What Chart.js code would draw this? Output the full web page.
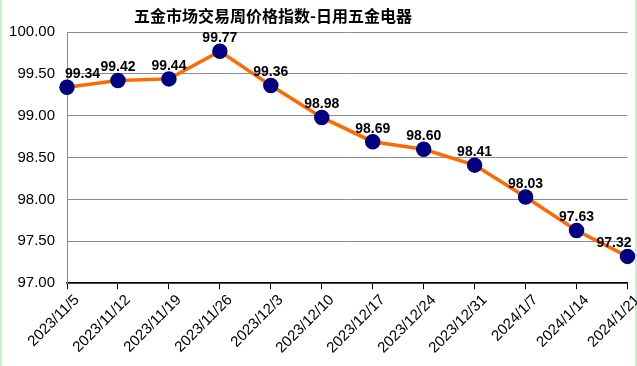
<!DOCTYPE html>
<html lang="zh">
<head>
<meta charset="UTF-8" />
<title>五金市场交易周价格指数-日用五金电器</title>
<script src="https://cdn.jsdelivr.net/npm/chart.js"></script>
<style>
    html, body { margin: 0; padding: 0; background: #fff; }
    #wrap { width: 637px; height: 366px; position: relative; }
</style>
</head>
<body>
<div id="wrap"><canvas id="priceChart"></canvas></div>
<script>
    const chartTitle = '五金市场交易周价格指数-日用五金电器';
    const weeks = ['2023/11/5', '2023/11/12', '2023/11/19', '2023/11/26', '2023/12/3', '2023/12/10',
        '2023/12/17', '2023/12/24', '2023/12/31', '2024/1/7', '2024/1/14', '2024/1/21'];
    const indexValues = [99.34, 99.42, 99.44, 99.77, 99.36, 98.98, 98.69, 98.60, 98.41, 98.03, 97.63, 97.32];
    const yTicks = [97.0, 97.5, 98.0, 98.5, 99.0, 99.5, 100.0];

    // page edges + title (title sits a bit left of centre, like the original)
    const backdrop = {
        id: 'backdrop',
        beforeDraw(chart) {
            const c = chart.ctx;
            c.save();
            c.fillStyle = '#ffffff';
            c.fillRect(0, 0, chart.width, chart.height);
            c.fillStyle = '#c6efce';
            c.fillRect(0, 0, 2, chart.height);
            c.fillRect(chart.width - 2, 0, 2, chart.height);
            c.fillStyle = '#000';
            c.font = 'bold 16px "Noto Sans CJK SC", sans-serif';
            c.textAlign = 'center';
            c.textBaseline = 'middle';
            c.fillText(chartTitle, 273, 16);
            c.restore();
        }
    };

    // value labels above each point
    const valueLabels = {
        id: 'valueLabels',
        afterDatasetsDraw(chart) {
            const c = chart.ctx;
            const pts = chart.getDatasetMeta(0).data;
            c.save();
            c.font = 'bold 14px "Liberation Sans", Arial, sans-serif';
            c.fillStyle = '#000';
            c.textBaseline = 'bottom';
            pts.forEach((p, i) => {
                let x = p.x;
                c.textAlign = 'center';
                if (i === 0) { c.textAlign = 'left'; x = p.x - 2; }
                if (i === pts.length - 1) { c.textAlign = 'right'; x = p.x + 4; }
                c.fillText(indexValues[i].toFixed(2), x, p.y - 6);
            });
            c.restore();
        }
    };

    new Chart(document.getElementById('priceChart'), {
        type: 'line',
        data: {
            labels: weeks,
            datasets: [{
                data: indexValues,
                borderColor: '#ff6a00',
                borderWidth: 3.5,
                pointBackgroundColor: '#000080',
                pointBorderColor: '#000080',
                pointRadius: 6,
                pointHoverRadius: 6,
                tension: 0,
                clip: false
            }]
        },
        options: {
            responsive: true,
            maintainAspectRatio: false,
            animation: false,
            layout: { padding: { left: 8, right: 7, top: 32, bottom: 7 } },
            plugins: {
                legend: { display: false },
                tooltip: { enabled: false },
                title: { display: false }
            },
            scales: {
                x: {
                    offset: false,
                    grid: { display: true, drawOnChartArea: false, color: '#000', tickLength: 6 },
                    border: { color: '#000', width: 1.5 },
                    ticks: {
                        color: '#000',
                        font: { family: '"Liberation Sans", Arial, sans-serif', size: 15 },
                        minRotation: 45,
                        maxRotation: 45,
                        autoSkip: false,
                        padding: 2,
                        labelOffset: 10
                    },
                    // rotated labels would otherwise push the plot to the right
                    afterFit(scale) { scale.paddingLeft = 0; scale.paddingRight = 0; }
                },
                y: {
                    min: yTicks[0],
                    max: yTicks[yTicks.length - 1],
                    afterBuildTicks(axis) { axis.ticks = yTicks.map(v => ({ value: v })); },
                    afterFit(scale) { scale.width = 59; },
                    grid: { color: '#8c8c8c', tickLength: 0 },
                    border: { color: '#8c8c8c' },
                    ticks: {
                        color: '#000',
                        padding: 12,
                        font: { family: '"Liberation Sans", Arial, sans-serif', size: 15 },
                        callback: v => Number(v).toFixed(2)
                    }
                }
            }
        },
        plugins: [backdrop, valueLabels]
    });
</script>
</body>
</html>
